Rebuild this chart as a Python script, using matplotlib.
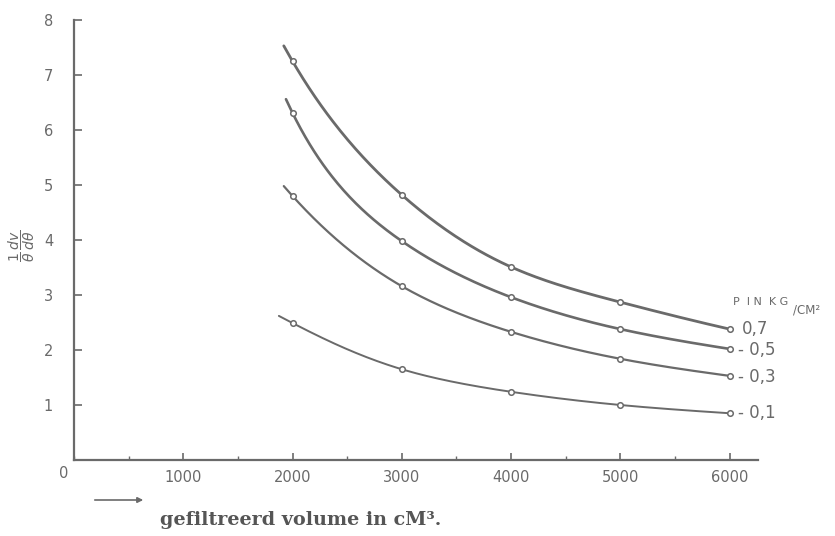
import numpy as np
import matplotlib
matplotlib.use("Agg")
import matplotlib.pyplot as plt
from matplotlib.ticker import MultipleLocator

# filtration rate against filtered volume, one curve per pressure (kg/cm2)
volume = [2000, 3000, 4000, 5000, 6000]
pressure_labels = ["0,7", "0,5", "0,3", "0,1"]
rate_07 = [7.25, 4.82, 3.51, 2.87, 2.38]
rate_05 = [6.31, 3.98, 2.96, 2.38, 2.02]
rate_03 = [4.80, 3.16, 2.33, 1.84, 1.53]
rate_01 = [2.49, 1.65, 1.24, 1.00, 0.85]
# where each hand-drawn curve begins, just left of the first measurement
curve_start_volume = [1920, 1940, 1920, 1875]
curve_start_rate = [7.53, 6.56, 4.98, 2.62]

x_ticks = [1000, 2000, 3000, 4000, 5000, 6000]
y_ticks = [1, 2, 3, 4, 5, 6, 7, 8]

INK = "#6a6a6a"
W, H = 835, 536


def px(x, y):
    return x / W, 1 - y / H


def natural_spline(x, y, xs):
    x = np.asarray(x, float)
    y = np.asarray(y, float)
    n = len(x)
    h = np.diff(x)
    A = np.zeros((n, n))
    b = np.zeros(n)
    A[0, 0] = A[-1, -1] = 1
    for i in range(1, n - 1):
        A[i, i - 1] = h[i - 1]
        A[i, i] = 2 * (h[i - 1] + h[i])
        A[i, i + 1] = h[i]
        b[i] = 6 * ((y[i + 1] - y[i]) / h[i] - (y[i] - y[i - 1]) / h[i - 1])
    M = np.linalg.solve(A, b)
    out = np.empty_like(xs, dtype=float)
    for j, xv in enumerate(xs):
        i = min(max(np.searchsorted(x, xv) - 1, 0), n - 2)
        t0, t1 = x[i + 1] - xv, xv - x[i]
        out[j] = (M[i] * t0**3 + M[i + 1] * t1**3) / (6 * h[i]) \
            + (y[i] / h[i] - M[i] * h[i] / 6) * t0 \
            + (y[i + 1] / h[i] - M[i + 1] * h[i] / 6) * t1
    return out


fig = plt.figure(figsize=(W / 100, H / 100), dpi=100)
ax = fig.add_axes([74 / W, 76 / H, 684 / W, 440 / H])
ax.set_xlim(0, 6260)
ax.set_ylim(0, 8)

series = [rate_07, rate_05, rate_03, rate_01]
widths = [2.0, 1.9, 1.6, 1.4]
for rates, x0, y0, lw in zip(series, curve_start_volume, curve_start_rate, widths):
    xk = [x0] + volume
    yk = np.log([y0] + rates)
    xs = np.linspace(x0, volume[-1], 300)
    ax.plot(xs, np.exp(natural_spline(xk, yk, xs)), color=INK, lw=lw,
            solid_capstyle="round")
    ax.plot(volume, rates, ls="none", marker="o", ms=4, mfc="white",
            mec=INK, mew=1.1)

# pressure labels at the curve ends
label_y = [329, 350, 377, 413]
for lab, yy in zip(pressure_labels, label_y):
    txt = lab if lab == "0,7" else "- " + lab
    fig.text(*px(738 if lab != "0,7" else 742, yy), txt, fontsize=12,
             color=INK, va="center", ha="left")
fig.text(*px(733, 302), "P  I N  K G", fontsize=8, color=INK, va="center")
fig.text(*px(793, 310), "/CM²", fontsize=8.5, color=INK, va="center")

for side in ("top", "right"):
    ax.spines[side].set_visible(False)
for side in ("left", "bottom"):
    ax.spines[side].set_color(INK)
    ax.spines[side].set_linewidth(1.6)

ax.set_xticks(x_ticks)
ax.set_xticklabels([str(v) for v in x_ticks])
ax.xaxis.set_minor_locator(MultipleLocator(500))
ax.set_yticks(y_ticks)
ax.set_yticklabels([str(v) for v in y_ticks])
ax.tick_params(axis="x", direction="in", length=5, width=1.2, colors=INK,
               labelsize=10.5, pad=7)
ax.tick_params(axis="x", which="minor", direction="in", length=3, width=1,
               colors=INK)
ax.tick_params(axis="y", direction="in", length=6, width=1.2, colors=INK,
               labelsize=10.5, pad=15)
fig.text(*px(64, 473), "0", fontsize=10.5, color=INK, ha="center", va="center")

# axis titles
fig.text(*px(22, 246), r"$\dfrac{1}{\theta}\,\dfrac{dv}{d\theta}$", rotation=90,
         fontsize=10, color=INK, ha="center", va="center")
fig.text(*px(160, 520), "gefiltreerd volume in cM³.", family="DejaVu Serif",
         fontweight="bold", fontsize=13.8, color="#555555", va="center")
fig.add_artist(matplotlib.patches.FancyArrowPatch(
    px(92, 500), px(146, 500), transform=fig.transFigure,
    arrowstyle="-|>", mutation_scale=8, color=INK, lw=1.2))

fig.savefig("out.png", dpi=100, facecolor="white")
